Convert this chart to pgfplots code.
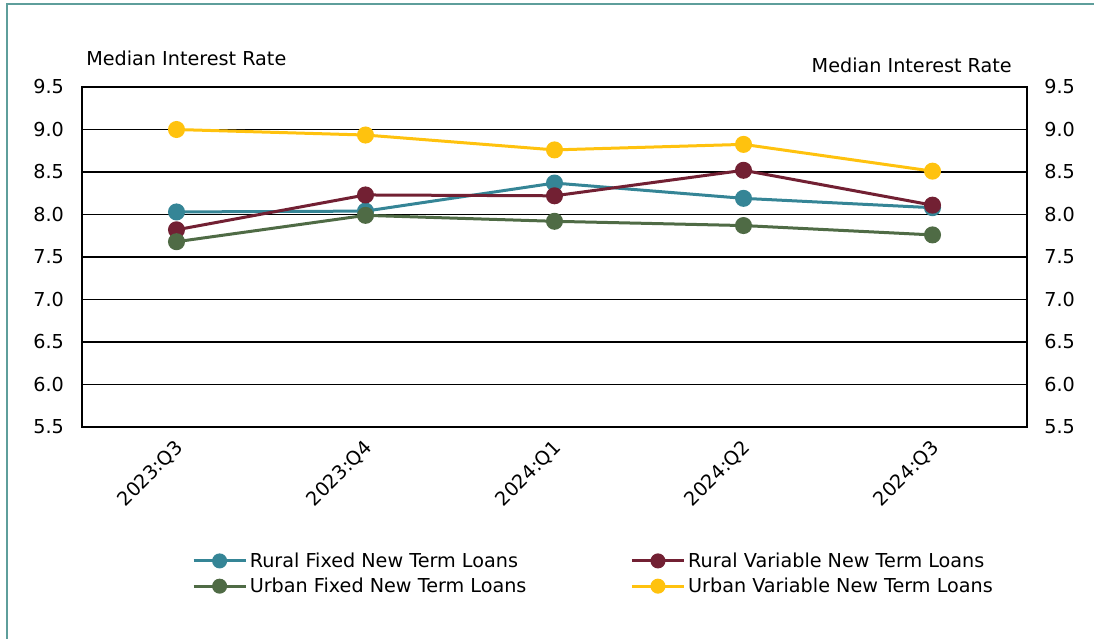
\documentclass[border=0pt]{standalone}
\usepackage{fontspec}
\setmainfont{DejaVu Sans}
\usepackage{pgfplots}
\pgfplotsset{compat=1.18}
\definecolor{cteal}{HTML}{358596}
\definecolor{cmaroon}{HTML}{722033}
\definecolor{cgreen}{HTML}{4F6B45}
\definecolor{cyellow}{HTML}{FFC20E}
\definecolor{cframe}{HTML}{5E9E9B}
\newcommand{\lbfont}{\fontsize{14.4}{17.5}\selectfont}
\pgfplotsset{
  common/.style={
    at={(61.5pt,-320.25pt)}, anchor=south west,
    scale only axis, width=708.75pt, height=255pt,
    xmin=-0.5, xmax=4.5, ymin=5.5, ymax=9.5,
    ytick={5.5,6.0,6.5,7.0,7.5,8.0,8.5,9.0,9.5},
    major tick length=0pt,
    /pgf/number format/assume math mode=true,
    yticklabel style={/pgf/number format/fixed, /pgf/number format/fixed zerofill, /pgf/number format/precision=1},
    tick label style={font=\lbfont},
  }
}
\begin{document}
\begin{tikzpicture}
\useasboundingbox (0,0) rectangle (820.5pt,-478.5pt);
\draw[cframe, line width=1.5pt] (5.25pt,-480pt) -- (5.25pt,-3pt) -- (822pt,-3pt);
\begin{axis}[common,
    xtick={0,1,2,3,4},
    xticklabels={2023:Q3,2023:Q4,2024:Q1,2024:Q2,2024:Q3},
    xticklabel style={xshift=-2pt, yshift=-4pt, rotate=45, anchor=north east},
    yticklabel style={xshift=-10pt},
    ymajorgrids,
    grid style={black, line width=1.2pt},
    axis line style={black, line width=1.2pt},
    legend columns=2,
    legend cell align=left,
    legend style={at={(0.112,-0.353)}, anchor=north west, draw=none, fill=none,
      font=\lbfont, row sep=2.5pt,
      /tikz/every even column/.append style={column sep=76pt}},
    legend image code/.code={\draw[mark repeat=2,mark phase=2,#1,mark size=4.5pt] plot coordinates {(0pt,0pt) (19.5pt,0pt) (39pt,0pt)};},
  ]
\addplot[color=cteal, line width=2.25pt, mark=*, mark size=5.25pt, mark options={solid, fill=cteal}]
  coordinates {(0,8.03) (1,8.04) (2,8.37) (3,8.19) (4,8.08)};
\addlegendentry{Rural Fixed New Term Loans}
\addplot[color=cmaroon, line width=2.25pt, mark=*, mark size=5.25pt, mark options={solid, fill=cmaroon}]
  coordinates {(0,7.82) (1,8.23) (2,8.22) (3,8.52) (4,8.11)};
\addlegendentry{Rural Variable New Term Loans}
\addplot[color=cgreen, line width=2.25pt, mark=*, mark size=5.25pt, mark options={solid, fill=cgreen}]
  coordinates {(0,7.68) (1,7.99) (2,7.92) (3,7.87) (4,7.76)};
\addlegendentry{Urban Fixed New Term Loans}
\addplot[color=cyellow, line width=2.25pt, mark=*, mark size=5.25pt, mark options={solid, fill=cyellow}]
  coordinates {(0,9.0) (1,8.935) (2,8.76) (3,8.825) (4,8.51)};
\addlegendentry{Urban Variable New Term Loans}
\end{axis}
\begin{axis}[common,
    axis x line=none,
    axis y line*=right,
    axis line style={draw=none},
    yticklabel pos=right,
    yticklabel style={xshift=9.5pt},
  ]
\addplot[draw=none, forget plot] coordinates {(0,6) (4,6)};
\end{axis}
\node[anchor=base west, font=\lbfont, inner sep=0pt] at (64.5pt,-49.5pt) {Median Interest Rate};
\node[anchor=base east, font=\lbfont, inner sep=0pt] at (759pt,-54.2pt) {Median Interest Rate};
\end{tikzpicture}
\end{document}
